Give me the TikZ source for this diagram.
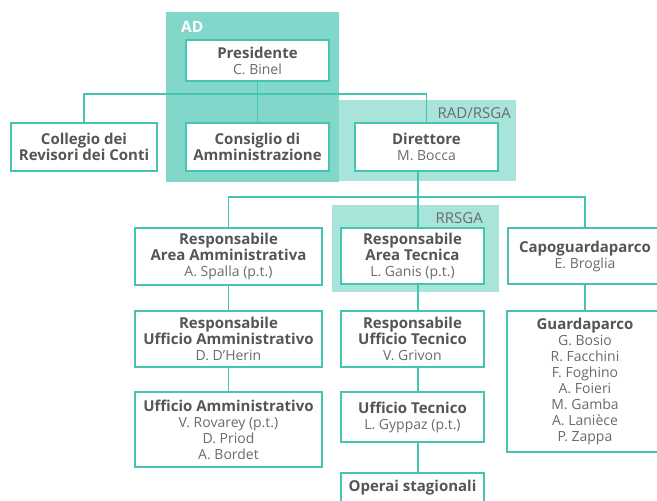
\documentclass[tikz,border=0pt]{standalone}
\usepackage{fontspec}
\setmainfont{Open Sans}
\usepackage{tikz}
\usetikzlibrary{positioning}

\definecolor{linecol}{HTML}{45C4B0}
\definecolor{adfill}{HTML}{80D7CA}
\definecolor{rsgafill}{HTML}{A9E4DB}
\definecolor{headtxt}{HTML}{545558}
\definecolor{nametxt}{HTML}{6A6B6E}

\newcommand{\hd}[1]{{\fontsize{15}{16}\selectfont\bfseries\color{headtxt}#1}}
\newcommand{\nm}[1]{{\color{nametxt}#1}}

\begin{document}
\begin{tikzpicture}[x=1pt,y=-1pt,
  unit/.style={draw=linecol,line width=1.4pt,fill=white,align=center,inner sep=0pt,
    font=\fontsize{14}{16}\selectfont},
  conn/.style={draw=linecol,line width=1.3pt},
  tag/.style={anchor=east,text=nametxt,inner sep=0pt,font=\fontsize{15}{16}\selectfont}]
\useasboundingbox (0,0) rectangle (657,501);
\clip (0,0) rectangle (657,501);
\fill[rsgafill] (330,100) rectangle (516,181);
\fill[adfill] (166,12) rectangle (339,182);
\fill[rsgafill] (332,205) rectangle (499,292);
\node[anchor=west,text=white,inner sep=0pt,font=\fontsize{15.5}{16}\selectfont\bfseries] (adlab) at (181,27) {AD};
\node[tag] (radlab) at (511,113) {RAD/RSGA};
\node[tag] (rrsgalab) at (483,218) {RRSGA};

\node[unit,minimum width=143,minimum height=41] (pres) at (257.5,60.5) {\hd{Presidente}\\\nm{C. Binel}};
\node[unit,minimum width=146,minimum height=48] (coll) at (84,147) {\hd{Collegio dei}\\\hd{Revisori dei Conti}};
\node[unit,minimum width=143,minimum height=48] (cons) at (257.5,147) {\hd{Consiglio di}\\\hd{Amministrazione}};
\node[unit,minimum width=143,minimum height=48] (dir) at (426.5,147) {\hd{Direttore}\\\nm{M. Bocca}};

\node[unit,minimum width=187,minimum height=57] (raa) at (228.5,256.5) {\hd{Responsabile}\\\hd{Area Amministrativa}\\\nm{A. Spalla (p.t.)}};
\node[unit,minimum width=143,minimum height=56] (rat) at (412.5,256) {\hd{Responsabile}\\\hd{Area Tecnica}\\\nm{L. Ganis (p.t.)}};
\node[unit,minimum width=154,minimum height=56] (capo) at (585,256) {\hd{Capoguardaparco}\\\nm{E. Broglia}};

\node[unit,minimum width=187,minimum height=56] (rua) at (228.5,339) {\hd{Responsabile}\\\hd{Ufficio Amministrativo}\\\nm{D. D’Herin}};
\node[unit,minimum width=143,minimum height=56] (rut) at (412.5,339) {\hd{Responsabile}\\\hd{Ufficio Tecnico}\\\nm{V. Grivon}};
\node[unit,minimum width=156,minimum height=141] (guard) at (585,381.5) {\hd{Guardaparco}\\\nm{G. Bosio}\\\nm{R. Facchini}\\\nm{F. Foghino}\\\nm{A. Foieri}\\\nm{M. Gamba}\\\nm{A. Lanièce}\\\nm{P. Zappa}};

\node[unit,minimum width=187,minimum height=75] (ua) at (228.5,429.5) {\hd{Ufficio Amministrativo}\\\nm{V. Rovarey (p.t.)}\\\nm{D. Priod}\\\nm{A. Bordet}};
\node[unit,minimum width=143,minimum height=50] (ut) at (412.5,417) {\hd{Ufficio Tecnico}\\\nm{L. Gyppaz (p.t.)}};
\node[unit,minimum width=143,minimum height=30] (op) at (412.5,488) {\hd{Operai stagionali}};

\coordinate (busA) at (258,94);
\coordinate (trunk) at (418,197);
\draw[conn] (pres) -- (cons);
\draw[conn] (coll.north) |- (busA) -| (dir.north);
\draw[conn] (trunk |- dir.south) -- (trunk |- rat.north);
\draw[conn] (raa.north) |- (trunk) -| (capo.north);
\draw[conn] (raa) -- (rua);
\draw[conn] (rua) -- (ua);
\draw[conn] (trunk |- rat.south) -- (trunk |- rut.north);
\draw[conn] (trunk |- rut.south) -- (trunk |- ut.north);
\draw[conn] (trunk |- ut.south) -- (trunk |- op.north);
\draw[conn] (capo) -- (guard);
\end{tikzpicture}
\end{document}
